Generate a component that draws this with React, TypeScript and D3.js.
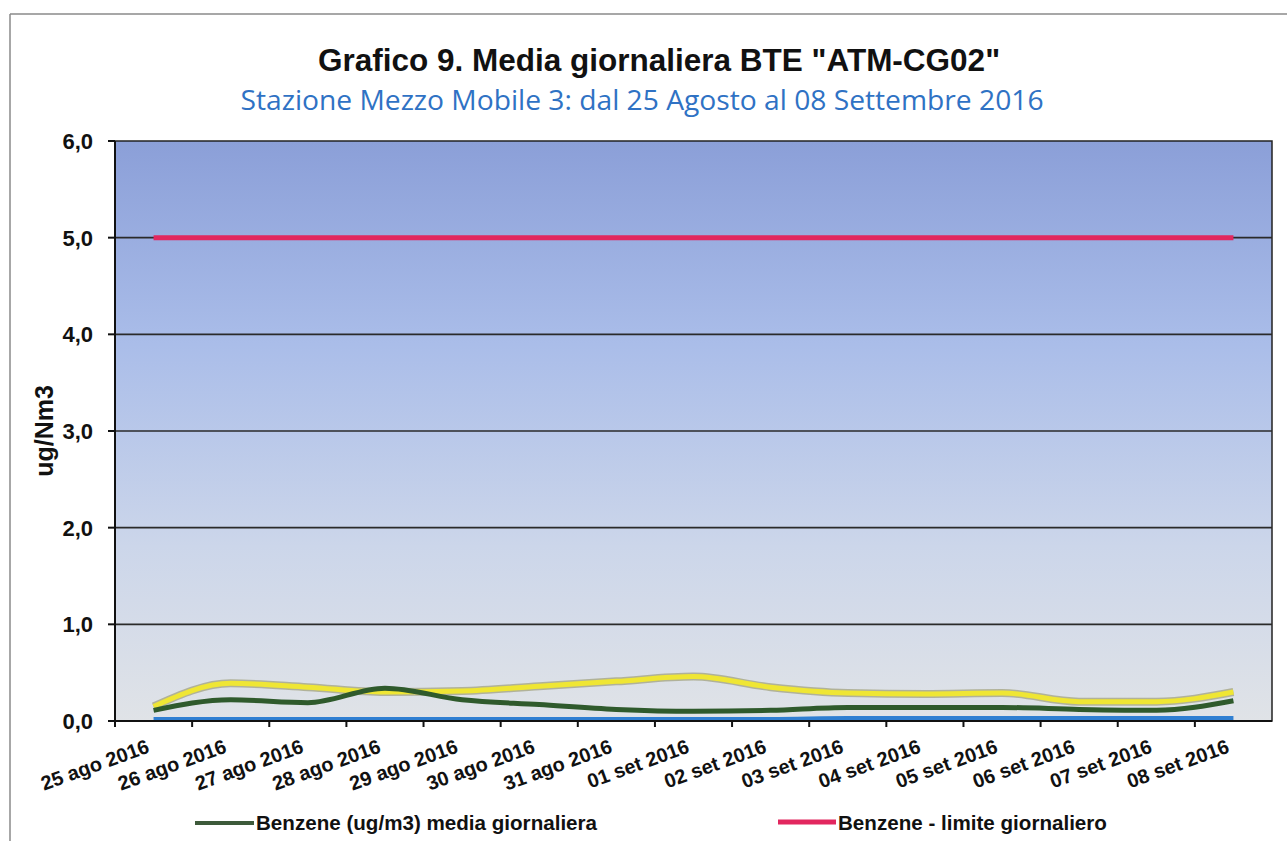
import React from "react";
import * as d3 from "d3";

// Days of the monitoring campaign
const days = [
  "25 ago 2016", "26 ago 2016", "27 ago 2016", "28 ago 2016", "29 ago 2016",
  "30 ago 2016", "31 ago 2016", "01 set 2016", "02 set 2016", "03 set 2016",
  "04 set 2016", "05 set 2016", "06 set 2016", "07 set 2016", "08 set 2016",
];

// Daily means (ug/m3)
const benzeneMedia = [0.11, 0.22, 0.19, 0.34, 0.22, 0.17, 0.12, 0.1, 0.11, 0.14, 0.14, 0.14, 0.12, 0.11, 0.21];
const tolueneMedia = [0.15, 0.39, 0.35, 0.3, 0.31, 0.36, 0.41, 0.46, 0.35, 0.29, 0.28, 0.29, 0.2, 0.2, 0.3];
const etilbenzeneMedia = [0.02, 0.02, 0.02, 0.02, 0.02, 0.02, 0.02, 0.02, 0.02, 0.03, 0.03, 0.03, 0.03, 0.03, 0.03];
// Daily limit for benzene
const benzeneLimite = days.map(() => 5.0);

const yTicks = [0, 1, 2, 3, 4, 5, 6];

const W = 1287;
const H = 841;
const plot = { left: 115, right: 1272, top: 141, bottom: 721 };

export default function App() {
  const x = d3
    .scaleBand<string>()
    .domain(days)
    .range([plot.left, plot.right])
    .paddingInner(0)
    .paddingOuter(0);
  const y = d3.scaleLinear().domain([0, 6]).range([plot.bottom, plot.top]);
  const cx = (d: string) => (x(d) as number) + x.bandwidth() / 2;

  const line = (vals: number[]) =>
    d3
      .line<number>()
      .x((_, i) => cx(days[i]))
      .y((v) => y(v))
      .curve(d3.curveMonotoneX)(vals) as string;

  const fmt = (v: number) => v.toFixed(1).replace(".", ",");
  const bold = "'Liberation Sans', Arial, sans-serif";

  return (
    <svg
      width={W}
      height={H}
      style={{ position: "absolute", left: 0, top: 0, background: "#fff" }}
    >
      <defs>
        <linearGradient id="plotBg" x1="0" y1="0" x2="0" y2="1">
          <stop offset="0%" stopColor="#8b9fd8" />
          <stop offset="35%" stopColor="#aabde9" />
          <stop offset="70%" stopColor="#ccd6ea" />
          <stop offset="100%" stopColor="#e0e3e7" />
        </linearGradient>
      </defs>

      {/* outer frame */}
      <line x1={10} y1={14} x2={W} y2={14} stroke="#8a8a8a" strokeWidth={1.5} />
      <line x1={10} y1={14} x2={10} y2={H} stroke="#8a8a8a" strokeWidth={1.5} />

      {/* titles */}
      <text x={659} y={71} textAnchor="middle" fontFamily={bold} fontWeight="bold" fontSize={31.5} fill="#111">
        Grafico 9. Media giornaliera BTE "ATM-CG02"
      </text>
      <text
        x={642}
        y={110}
        textAnchor="middle"
        fontFamily="'Open Sans', 'Noto Sans', sans-serif"
        fontSize={27}
        fill="#2f72c4"
        textLength={803}
        lengthAdjust="spacingAndGlyphs"
      >
        Stazione Mezzo Mobile 3: dal 25 Agosto al 08 Settembre 2016
      </text>

      {/* plot area */}
      <rect
        x={plot.left}
        y={plot.top}
        width={plot.right - plot.left}
        height={plot.bottom - plot.top}
        fill="url(#plotBg)"
        stroke="#222"
        strokeWidth={1.5}
      />

      {/* gridlines */}
      {yTicks
        .filter((t) => t > 0 && t < 6)
        .map((t) => (
          <line key={t} x1={plot.left} x2={plot.right} y1={y(t)} y2={y(t)} stroke="#2a2a2a" strokeWidth={1.6} />
        ))}

      {/* y axis */}
      <line x1={plot.left} x2={plot.left} y1={plot.top} y2={plot.bottom} stroke="#111" strokeWidth={2} />
      {yTicks.map((t) => (
        <g key={t}>
          <line x1={plot.left - 7} x2={plot.left} y1={y(t)} y2={y(t)} stroke="#111" strokeWidth={2} />
          <text
            x={93}
            y={y(t)}
            dy="0.36em"
            textAnchor="end"
            fontFamily={bold}
            fontWeight="bold"
            fontSize={22}
            fill="#111"
          >
            {fmt(t)}
          </text>
        </g>
      ))}
      <text
        transform={`translate(53, ${(plot.top + plot.bottom) / 2}) rotate(-90)`}
        textAnchor="middle"
        fontFamily={bold}
        fontWeight="bold"
        fontSize={25}
        fill="#111"
      >
        ug/Nm3
      </text>

      {/* series */}
      <path d={line(etilbenzeneMedia)} fill="none" stroke="#2f7fd2" strokeWidth={4} strokeLinejoin="round" />
      <path d={line(tolueneMedia)} fill="none" stroke="#7d7a3a" strokeWidth={8} strokeOpacity={0.45} strokeLinejoin="round" />
      <path d={line(tolueneMedia)} fill="none" stroke="#efe634" strokeWidth={5} strokeLinejoin="round" />
      <path d={line(benzeneMedia)} fill="none" stroke="#2f5a2c" strokeWidth={5} strokeLinejoin="round" />
      <path d={line(benzeneLimite)} fill="none" stroke="#e2275f" strokeWidth={5} strokeLinejoin="round" />

      {/* x axis */}
      <line x1={plot.left} x2={plot.right} y1={plot.bottom} y2={plot.bottom} stroke="#111" strokeWidth={2} />
      {days.map((d) => (
        <line
          key={"t" + d}
          x1={x(d) as number}
          x2={x(d) as number}
          y1={plot.bottom}
          y2={plot.bottom + 6}
          stroke="#111"
          strokeWidth={2}
        />
      ))}
      {days.map((d) => (
        <text
          key={"l" + d}
          transform={`translate(${cx(d) - 3}, ${plot.bottom + 31}) rotate(-20)`}
          textAnchor="end"
          fontFamily={bold}
          fontWeight="bold"
          fontSize={20}
          fill="#111"
        >
          {d}
        </text>
      ))}

      {/* legend */}
      <line x1={195} x2={254} y1={823} y2={823} stroke="#3d5a3a" strokeWidth={4} />
      <text x={256} y={830} fontFamily={bold} fontWeight="bold" fontSize={20.6} fill="#111">
        Benzene (ug/m3) media giornaliera
      </text>
      <line x1={778} x2={836} y1={822} y2={822} stroke="#e2275f" strokeWidth={5} />
      <text x={838} y={830} fontFamily={bold} fontWeight="bold" fontSize={20.6} fill="#111">
        Benzene - limite giornaliero
      </text>
    </svg>
  );
}
